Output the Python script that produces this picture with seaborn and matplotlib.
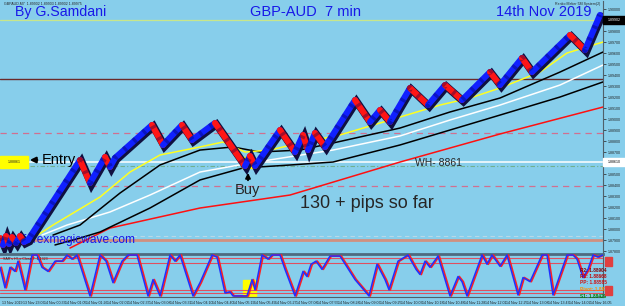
import numpy as np
import pandas as pd
import matplotlib
matplotlib.use("Agg")
import matplotlib.pyplot as plt
import matplotlib.transforms as mtransforms
from matplotlib.patches import Rectangle
import seaborn as sns

# ---------------- data ----------------
renko_x = [0, 3, 6, 9, 12, 16, 20, 24, 28, 80, 90, 105, 110, 115, 152, 163, 182, 192, 215,
           245, 250, 255, 280, 295, 303, 308, 315, 325, 355, 370, 380, 390, 410, 428, 445,
           462, 490, 500, 522, 532, 570, 585, 600]
renko_close = [1.87918, 1.87855, 1.87936, 1.87864, 1.87927, 1.87873, 1.87936, 1.87882, 1.87900,
               1.88627, 1.88418, 1.88655, 1.88564, 1.88646, 1.88946, 1.88764, 1.88946, 1.88809,
               1.88964, 1.88573, 1.88664, 1.88573, 1.88900, 1.88700, 1.88855, 1.88718, 1.88873,
               1.88746, 1.89173, 1.88973, 1.89082, 1.88973, 1.89282, 1.89127, 1.89309, 1.89173,
               1.89427, 1.89309, 1.89555, 1.89427, 1.89764, 1.89627, 1.89946]

yellow_x = [30, 53, 100, 130, 160, 200, 223, 245, 270, 300, 340, 400, 440, 470, 500, 540, 567, 603]
yellow_ma = [1.87900, 1.88036, 1.88291, 1.88518, 1.88673, 1.88746, 1.88791, 1.88700, 1.88718,
             1.88782, 1.88855, 1.89018, 1.89127, 1.89191, 1.89282, 1.89427, 1.89600, 1.89700]
fast_x = [53, 80, 120, 160, 200, 233, 260, 300, 333, 400, 450, 500, 560, 603]
fast_ma = [1.87945, 1.88036, 1.88327, 1.88582, 1.88718, 1.88746, 1.88700, 1.88718, 1.88782,
           1.88918, 1.89064, 1.89191, 1.89427, 1.89609]
white_x = [42, 67, 110, 150, 200, 250, 333, 400, 450, 500, 560, 603]
white_ma = [1.87945, 1.88036, 1.88155, 1.88309, 1.88518, 1.88600, 1.88718, 1.88846, 1.88991,
            1.89127, 1.89309, 1.89491]
slow_x = [55, 80, 100, 150, 200, 243, 290, 333, 400, 450, 500, 560, 603]
slow_ma = [1.87855, 1.87918, 1.87973, 1.88191, 1.88446, 1.88555, 1.88582, 1.88609, 1.88764,
           1.88900, 1.89036, 1.89200, 1.89337]
red_x = [70, 110, 200, 290, 400, 500, 603]
red_ma = [1.87827, 1.88009, 1.88191, 1.88309, 1.88609, 1.88864, 1.89109]

current_price = 1.89900
resistance = 1.89364
entry_price = 1.88610
pink_levels = [1.88873, 1.88391]
green_level = 1.88573
salmon_level = 1.87900
light_level = 1.87936
price_ticks = [1.8780, 1.8790, 1.8800, 1.8810, 1.8820, 1.8830, 1.8840, 1.8850, 1.8860, 1.8870,
               1.8880, 1.8890, 1.8900, 1.8910, 1.8920, 1.8930, 1.8940, 1.8950, 1.8960, 1.8970,
               1.8980, 1.8990, 1.9000]

stoch_x = [0, 5, 10, 15, 18, 25, 32, 37, 42, 48, 55, 62, 67, 72, 77, 90, 100, 106, 113, 122,
           128, 137, 148, 153, 160, 170, 175, 180, 193, 200, 212, 217, 225, 230, 233, 247, 252,
           255, 262, 268, 272, 280, 285, 295, 303, 307, 311, 316, 322, 330, 340, 355, 369, 377,
           385, 389, 398, 408, 416, 420, 425, 430, 438, 450, 458, 462, 467, 482, 487, 492, 500,
           507, 518, 523, 530, 542, 547, 553, 567, 573, 577, 583, 588, 593, 598, 603]
stoch_v = [70, 20, 70, 60, 85, 15, 100, 100, 70, 60, 85, 85, 100, 90, 100, 0, 100, 85, 32.5, 85,
           100, 100, 0, 40, 0, 100, 85, 100, 0, 32.5, 100, 95, 7.5, 10, 0, 0, 40,
           15, 100, 90, 100, 100, 65, 0, 60, 47.5, 77.5, 85, 65, 97.5, 97.5, 40, 0, 77.5,
           40, 15, 85, 100, 65, 52.5, 85, 70, 97.5, 0, 47.5, 35, 0, 100, 77.5, 100, 72.5,
           100, 2.5, 45, 35, 100, 100, 2.5, 100, 100, 90, 45, 65, 100, 95, 100]
stoch_levels = [92, 80, 15, 7]

time_labels = ["13 Nov 2019", "13 Nov 23:06", "14 Nov 00:33", "14 Nov 01:05", "14 Nov 01:26",
               "14 Nov 02:02", "14 Nov 02:37", "14 Nov 03:08", "14 Nov 03:31", "14 Nov 04:10",
               "14 Nov 04:40", "14 Nov 05:19", "14 Nov 05:49", "14 Nov 06:27", "14 Nov 07:08",
               "14 Nov 07:55", "14 Nov 08:28", "14 Nov 09:06", "14 Nov 09:25", "14 Nov 10:03",
               "14 Nov 10:18", "14 Nov 10:48", "14 Nov 11:28", "14 Nov 12:01", "14 Nov 12:25",
               "14 Nov 13:08", "14 Nov 13:43", "14 Nov 14:02", "14 Nov 16:05"]
pivot_names = ["R2: 1.88904", "R1: 1.88668", "PP: 1.88585", "Pivot: 1.88398", "S1: 1.88429"]
pivot_colors = ["#8b0000", "#c00000", "#d01010", "#ff8c00", "#008000"]

# ---------------- figure ----------------
BG = "#87CEEB"
sns.set_theme(style="white", rc={"axes.facecolor": BG, "figure.facecolor": BG})
plt.rcParams["font.family"] = ["Liberation Sans", "DejaVu Sans"]

W, H = 625, 306
fig = plt.figure(figsize=(W / 100, H / 100), dpi=100)


def rect(x0, y0, x1, y1):
    return [x0 / W, 1 - y1 / H, (x1 - x0) / W, (y1 - y0) / H]


def fx(x):
    return x / W


def fy(y):
    return 1 - y / H


ax = fig.add_axes(rect(0, 1, 603, 253))
sub = fig.add_axes(rect(0, 254, 603, 297))
for a in (ax, sub):
    a.set_facecolor(BG)
    a.set_xlim(0, 603)
    for s in ("left", "top"):
        a.spines[s].set_visible(False)
    a.spines["right"].set_color("#50606a")
    a.spines["right"].set_linewidth(0.8)
    a.spines["bottom"].set_color("#50606a")
    a.spines["bottom"].set_linewidth(0.8)
sub.spines["top"].set_visible(True)
sub.spines["top"].set_color("#4d6b80")
sub.spines["top"].set_linewidth(2)
ax.spines["bottom"].set_visible(False)

ax.set_ylim(1.87782, 1.90073)
sub.set_ylim(-2.5, 102.5)

# horizontal levels
ax.axhline(current_price, color="#c8e68a", lw=0.9, zorder=2)
ax.axhline(resistance, color="#6b2a2a", lw=1.0, zorder=2)
for lv in pink_levels:
    ax.axhline(lv, color="#d07090", lw=0.9, ls=(0, (5, 4)), zorder=2)
ax.axhline(entry_price, color="white", lw=1.1, zorder=2)
ax.axhline(green_level, color="#70b090", lw=0.8, ls=(0, (4, 2, 1, 2)), zorder=2)
ax.axhline(light_level, color="#b8d8e8", lw=0.8, ls=(0, (4, 3)), zorder=2)
ax.axhline(salmon_level, color="#d09080", lw=2.0, zorder=2)

# moving averages
ma_df = pd.concat([
    pd.DataFrame({"x": red_x, "price": red_ma, "ma": "red"}),
    pd.DataFrame({"x": slow_x, "price": slow_ma, "ma": "slow"}),
    pd.DataFrame({"x": white_x, "price": white_ma, "ma": "white"}),
    pd.DataFrame({"x": fast_x, "price": fast_ma, "ma": "fast"}),
    pd.DataFrame({"x": yellow_x, "price": yellow_ma, "ma": "yellow"}),
])
sns.lineplot(data=ma_df, x="x", y="price", hue="ma",
             palette={"red": "#ff1010", "slow": "#000000", "white": "#ffffff",
                      "fast": "#000000", "yellow": "#ffff20"},
             estimator=None, sort=False, lw=1.1, legend=False, ax=ax, zorder=3)

# renko bricks (shadow + colored ribbon)
shadow = mtransforms.offset_copy(ax.transData, fig=fig, x=1.5, y=-1.5, units="dots")
ax.plot(renko_x, renko_close, color="#101040", lw=5.6, transform=shadow,
        solid_joinstyle="miter", zorder=5)
for i in range(len(renko_x) - 1):
    up = renko_close[i + 1] > renko_close[i]
    ax.plot(renko_x[i:i + 2], renko_close[i:i + 2], color="#1020ff" if up else "#ff1515",
            lw=4.4, solid_capstyle="round", zorder=6)
# brick edge texture
ax.plot(renko_x, renko_close, color="#000050", lw=4.4, alpha=0.35, dashes=(0.5, 1.6),
        zorder=7)

# right price axis
ax.yaxis.tick_right()
ax.set_yticks(price_ticks)
ax.set_yticklabels([f"{t:.5f}" for t in price_ticks])
ax.tick_params(axis="y", labelsize=2.6, length=2, width=0.5, pad=1.5, colors="#202020")
ax.set_xticks([])
ax.set_ylabel("")
ax.set_xlabel("")

# stochastic subpanel
red_off = mtransforms.offset_copy(sub.transData, fig=fig, x=1.3, y=0, units="dots")
sub.plot(stoch_x, stoch_v, color="#ff2020", lw=1.3, transform=red_off, zorder=3)
st = pd.DataFrame({"x": stoch_x, "v": stoch_v})
sns.lineplot(data=st, x="x", y="v", color="#2030ff", lw=1.1, estimator=None, sort=False,
             ax=sub, zorder=4)
for lv in stoch_levels:
    sub.axhline(lv, color="#e05060", lw=0.8, zorder=2)
sub.set_ylabel("")
sub.set_xlabel("")
sub.set_yticks([])
ticks = np.linspace(2, 590, len(time_labels))
sub.set_xticks(ticks)
sub.set_xticklabels(time_labels, ha="left")
sub.tick_params(axis="x", labelsize=2.6, length=1.5, width=0.4, pad=1.5, colors="#202020")

# ---------------- annotations ----------------
blue_txt = "#1818e8"
fig.text(fx(15), fy(12), "By G.Samdani", color=blue_txt, fontsize=10.2, va="center")
fig.text(fx(305), fy(12), "GBP-AUD  7 min", color=blue_txt, fontsize=10.5, va="center", ha="center")
fig.text(fx(544), fy(12), "14th Nov 2019", color=blue_txt, fontsize=10.5, va="center", ha="center")
fig.text(fx(4), fy(3.5), "GBPAUD,M7  1.89902 1.89903 1.89902 1.89975", fontsize=2.6, va="center")
fig.text(fx(600), fy(3.5), "Renko Maker 5M System(2)", fontsize=2.6, va="center", ha="right")

# current price & entry tags on axis
fig.patches.append(Rectangle((fx(603), fy(24)), 22 / W, 8 / H, transform=fig.transFigure,
                             color="black", zorder=5))
fig.text(fx(614), fy(20), "1.89902", color="white", fontsize=2.6, ha="center", va="center", zorder=6)
fig.patches.append(Rectangle((fx(603), fy(166)), 22 / W, 8 / H, transform=fig.transFigure,
                             color="white", zorder=5))
fig.text(fx(614), fy(162), "1.88610", color="black", fontsize=2.6, ha="center", va="center", zorder=6)

# entry box + arrow
fig.patches.append(Rectangle((0, fy(168)), 28 / W, 12 / H, transform=fig.transFigure,
                             color="#ffff00", zorder=5))
fig.text(fx(14), fy(162), "1.88861", fontsize=2.6, ha="center", va="center", zorder=6)
fig.text(fx(42), fy(160), "Entry", fontsize=10.5, va="center", color="black")
ax.annotate("", xy=(fx(27), fy(160)), xytext=(fx(40), fy(160)), xycoords="figure fraction",
            arrowprops=dict(arrowstyle="-|>", color="black", lw=1.6, mutation_scale=8))

# buy marker
ax.add_patch(Rectangle((fx(242), fy(168)), 12 / W, 11 / H, transform=fig.transFigure,
                       color="#ffff00", zorder=4))
ax.annotate("", xy=(fx(248), fy(170)), xytext=(fx(248), fy(183)), xycoords="figure fraction",
            arrowprops=dict(arrowstyle="-|>", color="black", lw=1.4, mutation_scale=7))
fig.text(fx(247), fy(190), "Buy", fontsize=10.5, ha="center", va="center")
fig.text(fx(415), fy(163), "WH- 8861", fontsize=7.5, va="center")
fig.text(fx(300), fy(203), "130 + pips so far", fontsize=13, va="center")
ax.text(fx(7), fy(240), "myforexmagicwave.com", color=blue_txt, fontsize=8.6, va="center",
        transform=fig.transFigure, zorder=4)

# subpanel decorations
sub.add_patch(Rectangle((fx(243), fy(297)), 13 / W, 17 / H, transform=fig.transFigure,
                        color="#ffff00", zorder=1))
fig.text(fx(3), fy(258.5), "SAR's HiLo Close 7  1.1323", fontsize=2.6, va="center")
for i, (name, col) in enumerate(zip(pivot_names, pivot_colors)):
    fig.text(fx(580), fy(270 + 6.5 * i), name, color=col, fontsize=3.4, va="center", weight="bold")
for yy in (257, 286):
    fig.patches.append(Rectangle((fx(605), fy(yy + 9)), 7 / W, 9 / H, transform=fig.transFigure,
                                 color="#e04040", zorder=5))

fig.savefig("out.png", dpi=100, facecolor=BG)
